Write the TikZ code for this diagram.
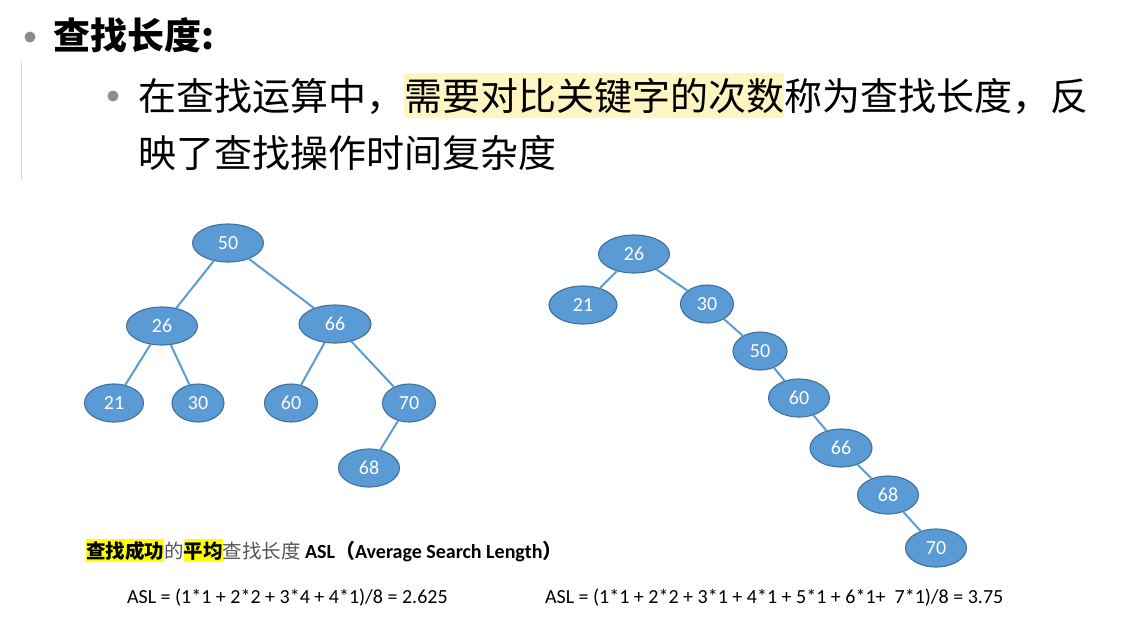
\documentclass[tikz,border=0pt]{standalone}
\usepackage{fontspec}
\setmainfont{Carlito}
\newfontfamily\cjk{Noto Sans CJK SC}
\usetikzlibrary{shapes.geometric}
\definecolor{nodeblue}{HTML}{5B9BD5}
\definecolor{nodeedge}{HTML}{41719C}
\definecolor{hlpale}{HTML}{FFF5C2}
\definecolor{hlyellow}{HTML}{FFFF00}
\definecolor{bulletgray}{HTML}{8C8C8C}
\definecolor{txtgray}{HTML}{555555}
\tikzset{
  bn/.style={ellipse, fill=nodeblue, draw=nodeedge, line width=1.1pt, inner sep=0pt,
    minimum height=38pt, text=white, font=\fontsize{20}{20}\selectfont},
  tedge/.style={draw=nodeblue, line width=2pt},
  txt/.style={inner sep=0pt, outer sep=0pt},
  big/.style={font=\cjk\fontsize{38}{38}\selectfont},
  small/.style={font=\fontsize{20}{20}\selectfont},
  smallbold/.style={font=\bfseries\fontsize{20}{20}\selectfont},
  smallcjk/.style={font=\cjk\fontsize{19.5}{19.5}\selectfont},
  smallcjkbold/.style={font=\cjk\bfseries\fontsize{19.5}{19.5}\selectfont},
}
\begin{document}
\begin{tikzpicture}[x=1pt,y=-1pt]
\useasboundingbox (0,0) rectangle (1130,638);
% bullets and bar
\fill[bulletgray] (30,37) circle (5.5);
\fill[bulletgray] (113,96) circle (5.5);
\draw[black!15, line width=1pt] (21,62) -- (21,180);
% header
\node[txt, anchor=base west, font=\cjk\bfseries\fontsize{37}{37}\selectfont] (hd) at (53,49) {查找长度:};
% line 1
\node[txt, anchor=base west, big] (l1a) at (138,110) {在查找运算中，};
\node[txt, anchor=base west, big, fill=hlpale, rounded corners=3pt, inner ysep=5pt] (l1b) at (l1a.base east) {需要对比关键字的次数};
\node[txt, anchor=base west, big] (l1c) at (l1b.base east) {称为查找长度，反};
\node[txt, anchor=base west, big] (l2) at (138,167) {映了查找操作时间复杂度};
% left tree
\node[bn, minimum width=71pt] (L50) at (228,243) {50};
\node[bn, minimum width=71pt] (L26) at (162,326) {26};
\node[bn, minimum width=72pt] (L66) at (335,324) {66};
\node[bn, minimum width=59pt] (L21) at (114,403) {21};
\node[bn, minimum width=52pt] (L30) at (198,403) {30};
\node[bn, minimum width=53pt] (L60) at (291,403) {60};
\node[bn, minimum width=53pt] (L70) at (409,403) {70};
\node[bn, minimum width=61pt] (L68) at (369,468) {68};
\draw[tedge] (L50) -- (L26);
\draw[tedge] (L50) -- (L66);
\draw[tedge] (L26) -- (L21);
\draw[tedge] (L26) -- (L30);
\draw[tedge] (L66) -- (L60);
\draw[tedge] (L66) -- (L70);
\draw[tedge] (L70) -- (L68);
% right tree
\node[bn, minimum width=71pt] (R26) at (634,254) {26};
\node[bn, minimum width=68pt] (R21) at (583,305) {21};
\node[bn, minimum width=53pt] (R30) at (707,304) {30};
\node[bn, minimum width=54pt] (R50) at (760,351) {50};
\node[bn, minimum width=61pt] (R60) at (799,398) {60};
\node[bn, minimum width=62pt] (R66) at (841,448) {66};
\node[bn, minimum width=61pt] (R68) at (888,495) {68};
\node[bn, minimum width=61pt] (R70) at (936,548) {70};
\draw[tedge] (R26) -- (R21);
\draw[tedge] (R26) -- (R30);
\draw[tedge] (R30) -- (R50);
\draw[tedge] (R50) -- (R60);
\draw[tedge] (R60) -- (R66);
\draw[tedge] (R66) -- (R68);
\draw[tedge] (R68) -- (R70);
% ASL title
\node[txt, anchor=base west, smallcjkbold, fill=hlyellow, inner ysep=2pt] (a1) at (86,558) {查找成功};
\node[txt, anchor=base west, smallcjk, text=txtgray] (a2) at (a1.base east) {的};
\node[txt, anchor=base west, smallcjkbold, fill=hlyellow, inner ysep=2pt] (a3) at (a2.base east) {平均};
\node[txt, anchor=base west, smallcjk, text=txtgray] (a4) at (a3.base east) {查找长度};
\node[txt, anchor=base west, smallbold] (a5) at (a4.base east) {\ ASL{\cjk（}Average Search Length{\cjk）}};
% formulas
\node[txt, anchor=base west, small] (f1) at (127,603) {ASL = (1*1 + 2*2 + 3*4 + 4*1)/8 = 2.625};
\node[txt, anchor=base west, small] (f2) at (545,603) {ASL = (1*1 + 2*2 + 3*1 + 4*1 + 5*1 + 6*1+ \ 7*1)/8 = 3.75};
\end{tikzpicture}
\end{document}
